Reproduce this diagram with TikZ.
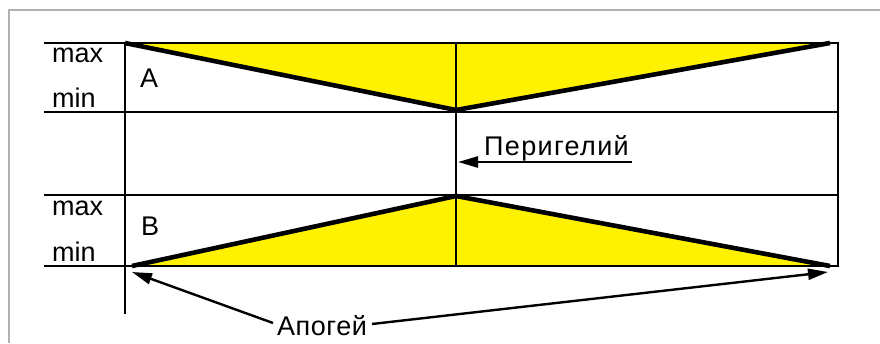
\documentclass[tikz,border=0pt]{standalone}
\usepackage{fontspec}
\setmainfont{Liberation Sans}
\usetikzlibrary{arrows.meta}
\begin{document}
\begin{tikzpicture}[x=1pt,y=-1pt,
  grid/.style={line width=2.8pt,black},
  vee/.style={line width=4.6pt,black,line join=miter},
  frame/.style={line width=1.5pt,color=black!30},
  lbl/.style={font=\fontsize{27}{30}\selectfont,inner sep=0pt,anchor=base west},
  pointer/.style={line width=2.4pt,-{Triangle[length=20pt,width=11pt]}}]
\useasboundingbox (0,0) rectangle (880,343);
% outer frame
\draw[frame] (9,343) -- (9,10) -- (880,10);
% yellow wedges
\fill[yellow] (125,43) -- (456,110) -- (830,43) -- cycle;
\fill[yellow] (132,266) -- (456,196) -- (830,266) -- cycle;
% grid lines
\draw[grid] (44,43) -- (838,43);
\draw[grid] (44,112) -- (838,112);
\draw[grid] (44,195) -- (838,195);
\draw[grid] (44,266) -- (838,266);
\draw[grid] (125,43) -- (125,314);
\draw[grid] (456,43) -- (456,266);
\draw[grid] (838,41.6) -- (838,267.4);
% V lines
\draw[vee] (125,43) -- (456,110) -- (830,43);
\draw[vee] (132,266) -- (456,196) -- (830,266);
% labels
\node[lbl] (max1) at (52,62) {max};
\node[lbl] (min1) at (52,107) {min};
\node[lbl] (A) at (140,87) {A};
\node[lbl] (max2) at (52,215) {max};
\node[lbl] (min2) at (52,261) {min};
\node[lbl] (B) at (141,235) {B};
\node[lbl] (peri) at (484,155) {\addfontfeature{LetterSpace=5}Перигелий};
\node[lbl] (apo) at (277,335) {\addfontfeature{LetterSpace=2}Апогей};
% pointers
\coordinate (periS) at (632,162);
\coordinate (periT) at (458,162);
\coordinate (apoL) at (273,323);
\coordinate (apoR) at (372,324);
\coordinate (apoLT) at (132,272);
\coordinate (apoRT) at (828,272);
\draw[pointer] (periS) -- (periT);
\draw[pointer] (apoL) -- (apoLT);
\draw[pointer] (apoR) -- (apoRT);
\end{tikzpicture}
\end{document}
